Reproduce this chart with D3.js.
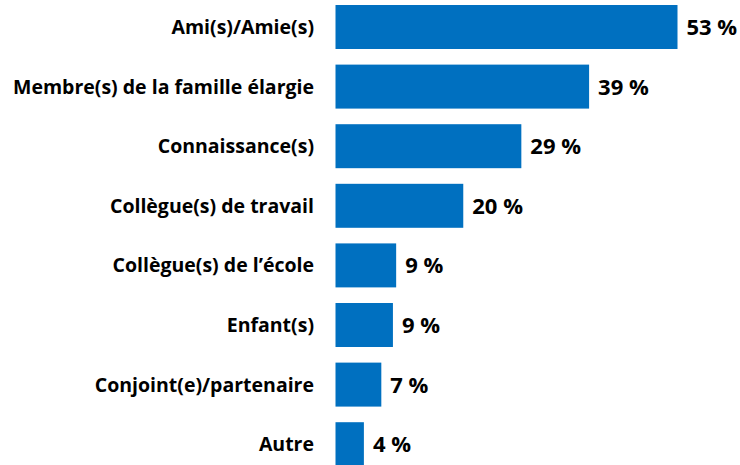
<!DOCTYPE html>
<html lang="fr">
<head>
<meta charset="UTF-8">
<title>Bar chart</title>
<style>
  body { margin: 0; background: #fff; }
  text { font-family: "Open Sans", sans-serif; font-weight: bold; fill: #000; }
</style>
</head>
<body>
<svg id="chart" width="740" height="465"></svg>
<script src="https://d3js.org/d3.v7.min.js"></script>
<script>
  const categories = [
    'Ami(s)/Amie(s)',
    'Membre(s) de la famille élargie',
    'Connaissance(s)',
    'Collègue(s) de travail',
    'Collègue(s) de l\u2019école',
    'Enfant(s)',
    'Conjoint(e)/partenaire',
    'Autre'
  ];
  const values = [53, 39.3, 28.8, 19.8, 9.4, 8.9, 7.1, 4.4];
  const valueLabels = ['53 %', '39 %', '29 %', '20 %', '9 %', '9 %', '7 %', '4 %'];

  const svg = d3.select('#chart');
  const left = 335.5;

  const x = d3.scaleLinear()
      .domain([0, 53])
      .range([left, 677.5]);

  const y = d3.scaleBand()
      .domain(categories)
      .range([5 - 7.8, 5 + 8 * 59.6 - 7.8])
      .paddingInner(0.262)
      .paddingOuter(0.131);

  const rows = svg.selectAll('.row')
      .data(categories)
      .join('g')
      .attr('class', 'row');

  rows.append('rect')
      .attr('x', x(0))
      .attr('y', d => y(d))
      .attr('width', (d, i) => x(values[i]) - x(0))
      .attr('height', y.bandwidth())
      .attr('fill', '#0070C0');

  rows.append('text')
      .attr('x', 314)
      .attr('y', d => y(d) + y.bandwidth() / 2)
      .attr('dy', '0.36em')
      .attr('text-anchor', 'end')
      .style('font-size', '19.5px')
      .text(d => d);

  rows.append('text')
      .attr('x', (d, i) => x(values[i]) + 9)
      .attr('y', d => y(d) + y.bandwidth() / 2)
      .attr('dy', '0.36em')
      .style('font-size', '22px')
      .text((d, i) => valueLabels[i]);
</script>
</body>
</html>
